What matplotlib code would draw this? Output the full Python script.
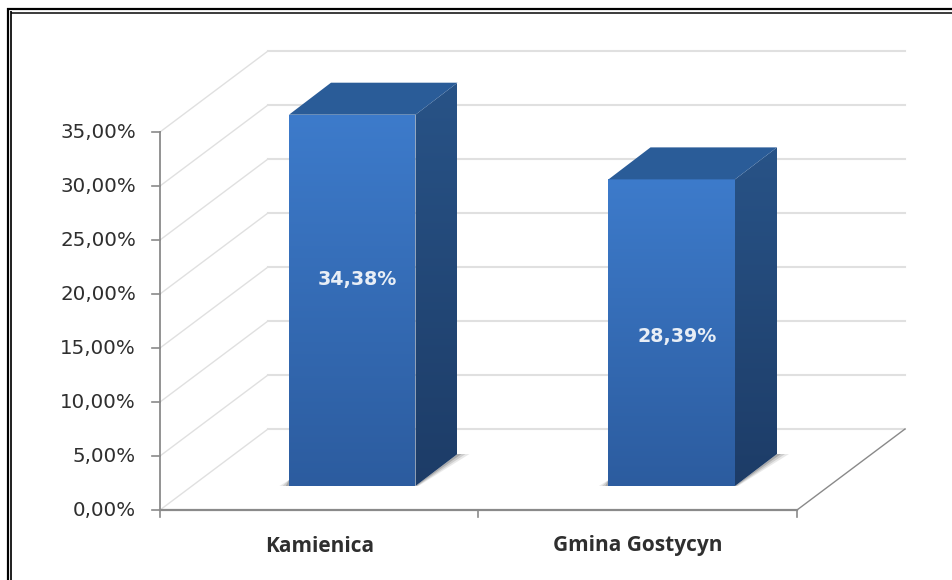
import matplotlib
matplotlib.use('Agg')
import matplotlib.pyplot as plt
import numpy as np
from matplotlib.colors import LinearSegmentedColormap
from matplotlib.lines import Line2D
from matplotlib.patches import Polygon

categories = ['Kamienica', 'Gmina Gostycyn']
values = [34.38, 28.39]
value_labels = ['34,38%', '28,39%']
label_heights = [21.5, 16.2]
y_ticks = [0, 5, 10, 15, 20, 25, 30, 35]
y_tick_labels = ['0,00%', '5,00%', '10,00%', '15,00%', '20,00%', '25,00%', '30,00%', '35,00%']

W, H = 953, 580
PX_X = 318.5   # pixels per category
PX_Y = 10.8    # pixels per percent
X0, Y0 = 160, 510

# 3d look, in data units
wall_dx, wall_dy = 108 / PX_X, 81 / PX_Y
base_dy = 24 / PX_Y
depth_dx, depth_dy = 42 / PX_X, 32 / PX_Y
bar_w = 126.5 / PX_X
bar_left = [(289 - X0) / PX_X, (608.5 - X0) / PX_X]

GRID = '#e0e0e0'
AXIS = '#8a8a8a'
TEXT = '#2f2f2f'

plt.rcParams['font.family'] = ['Open Sans', 'DejaVu Sans']

fig = plt.figure(figsize=(W / 100, H / 100), dpi=100, facecolor='white')
ax = fig.add_axes([0, 0, 1, 1])
ax.axis('off')
xlim = (-X0 / PX_X, (W - X0) / PX_X)
ylim = ((Y0 - H) / PX_Y, Y0 / PX_Y)


def grad(poly, c_top, c_bot, zorder):
    # vertical gradient clipped to a polygon
    pts = np.array(poly)
    cmap = LinearSegmentedColormap.from_list('g', [c_top, c_bot])
    im = ax.imshow(np.linspace(0, 1, 256).reshape(-1, 1), cmap=cmap, aspect='auto', origin='upper',
                   extent=(pts[:, 0].min(), pts[:, 0].max(), pts[:, 1].min(), pts[:, 1].max()),
                   zorder=zorder, interpolation='bilinear')
    clip = Polygon(poly, closed=True, transform=ax.transData, facecolor='none', edgecolor='none')
    ax.add_patch(clip)
    im.set_clip_path(clip)


# gridlines, side wall and back wall
for t in y_ticks:
    ax.plot([0, wall_dx], [t, t + wall_dy], color=GRID, lw=1.0, zorder=1)
    ax.plot([wall_dx, 2 + wall_dx], [t + wall_dy, t + wall_dy], color=GRID, lw=1.5, zorder=1)

# floor edge and axes
ax.plot([2, 2 + wall_dx], [0, wall_dy], color=AXIS, lw=1.0, zorder=2)
ax.plot([0, 0], [0, y_ticks[-1]], color=AXIS, lw=1.3, zorder=2)
ax.plot([0, 2], [0, 0], color=AXIS, lw=1.6, zorder=2)
for t, lab in zip(y_ticks, y_tick_labels):
    ax.plot([-8 / PX_X, 0], [t, t], color=AXIS, lw=1.2, zorder=2)
    ax.text(-24 / PX_X, t, lab, ha='right', va='center', fontsize=14.3, color=TEXT, family='DejaVu Sans')
for k in range(3):
    ax.plot([k, k], [0, -7 / PX_Y], color=AXIS, lw=1.2, zorder=2)

# bars
for left, v, vlab, lh in zip(bar_left, values, value_labels, label_heights):
    right = left + bar_w
    b = base_dy
    t = b + v
    # shadow on the floor
    for grow, alpha in [(12, 0.14), (8, 0.22), (4, 0.35)]:
        g = grow / PX_X
        ax.add_patch(Polygon([(right, b), (right + depth_dx, b + depth_dy), (right + depth_dx + g, b + depth_dy),
                              (right + g * 0.25, b)], closed=True, fc='#6a6a6a', ec='none', alpha=alpha, zorder=3))
        ax.add_patch(Polygon([(left, b), (left, b + 6 / PX_Y), (left - g * 0.8, b)], closed=True,
                             fc='#6a6a6a', ec='none', alpha=alpha, zorder=3))
    # front, side, top faces
    grad([(left, b), (right, b), (right, t), (left, t)], '#3d7bcb', '#2c5c9f', 4)
    grad([(right, b), (right + depth_dx, b + depth_dy), (right + depth_dx, t + depth_dy), (right, t)],
         '#285387', '#1d3c67', 4)
    ax.add_patch(Polygon([(left, t), (right, t), (right + depth_dx, t + depth_dy), (left + depth_dx, t + depth_dy)],
                         closed=True, fc='#2a5c98', ec='none', zorder=5))
    ax.text(left + bar_w / 2 + 5.5 / PX_X, lh - 0.15, vlab, ha='center', va='center', fontsize=13.7, fontweight='bold',
            color='#e8eef6', zorder=6, family='DejaVu Sans')

for k, cat in enumerate(categories):
    ax.text(k + 0.5, -36 / PX_Y, cat, ha='center', va='center', fontsize=15, fontweight='bold', color=TEXT)

ax.set_xlim(xlim)
ax.set_ylim(ylim)

# double frame on the top and left
for x, lw in [(8.3, 2.2), (11.3, 1.7)]:
    fig.add_artist(Line2D([x / W, x / W], [0, 1 - x / H], color='black', lw=lw * 0.72, solid_capstyle='butt'))
for y, x, lw in [(9.3, 7.2, 2.2), (12.7, 10.5, 1.5)]:
    fig.add_artist(Line2D([x / W, 1], [1 - y / H, 1 - y / H], color='black', lw=lw * 0.72, solid_capstyle='butt'))

fig.savefig('out.png', dpi=100)
